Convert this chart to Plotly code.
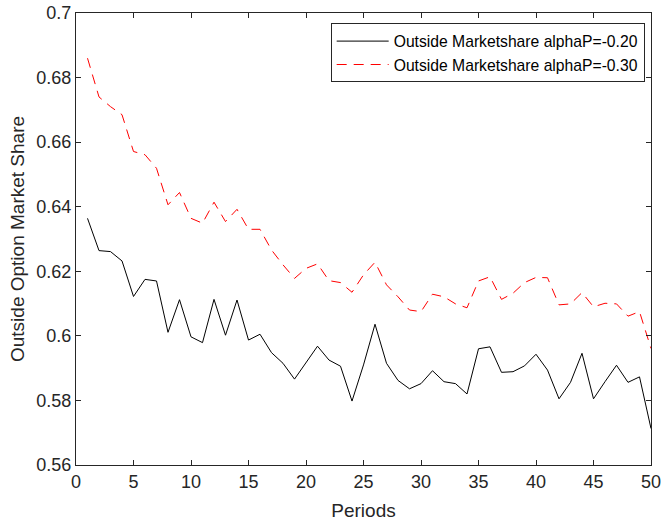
import plotly.graph_objects as go

periods = list(range(1, 51))
share_a020 = [0.6364, 0.6264, 0.6261, 0.6232, 0.6122, 0.6175, 0.6170, 0.6011, 0.6112, 0.5997,
              0.5979, 0.6113, 0.6002, 0.6111, 0.5987, 0.6005, 0.5948, 0.5915, 0.5866, 0.5917,
              0.5968, 0.5925, 0.5906, 0.5798, 0.5910, 0.6036, 0.5915, 0.5862, 0.5836, 0.5852,
              0.5892, 0.5858, 0.5852, 0.5820, 0.5960, 0.5966, 0.5887, 0.5889, 0.5907, 0.5943,
              0.5894, 0.5805, 0.5856, 0.5946, 0.5805, 0.5858, 0.5909, 0.5856, 0.5873, 0.5713]
share_a030 = [0.6860, 0.6740, 0.6710, 0.6685, 0.6571, 0.6561, 0.6519, 0.6406, 0.6444, 0.6364,
              0.6349, 0.6414, 0.6354, 0.6392, 0.6330, 0.6330, 0.6266, 0.6220, 0.6178, 0.6209,
              0.6223, 0.6171, 0.6165, 0.6135, 0.6189, 0.6228, 0.6158, 0.6121, 0.6080, 0.6075,
              0.6129, 0.6121, 0.6099, 0.6087, 0.6170, 0.6183, 0.6113, 0.6132, 0.6165, 0.6181,
              0.6180, 0.6096, 0.6099, 0.6134, 0.6090, 0.6101, 0.6099, 0.6061, 0.6075, 0.5961]
names = ["Outside Marketshare alphaP=-0.20", "Outside Marketshare alphaP=-0.30"]
x_ticks = list(range(0, 51, 5))
y_ticks = [0.56, 0.58, 0.6, 0.62, 0.64, 0.66, 0.68, 0.7]

FONT = "Liberation Sans, Arial, sans-serif"
AX = "#262626"

fig = go.Figure()
fig.add_trace(go.Scatter(x=periods, y=share_a020, mode="lines", name=names[0],
                         line=dict(color="#000000", width=1)))
fig.add_trace(go.Scatter(x=periods, y=share_a030, mode="lines", name=names[1],
                         line=dict(color="#ff0000", width=1, dash="10px,7px")))

axis_common = dict(showline=True, linecolor=AX, linewidth=1, mirror="ticks",
                   ticks="inside", ticklen=5, tickcolor=AX, tickwidth=1,
                   showgrid=False, zeroline=False, automargin=False,
                   ticklabeloverflow="allow",
                   tickfont=dict(family=FONT, size=18, color=AX))

fig.update_layout(
    width=661, height=524,
    margin=dict(l=76, r=10, t=13, b=59),
    paper_bgcolor="white", plot_bgcolor="white",
    font=dict(family=FONT, color=AX),
    xaxis=dict(range=[0, 50], tickvals=x_ticks,
               title=dict(text="Periods", font=dict(family=FONT, size=19, color=AX), standoff=13),
               **axis_common),
    yaxis=dict(range=[0.56, 0.7], tickvals=y_ticks,
               title=dict(text="Outside Option Market Share", font=dict(family=FONT, size=19, color=AX), standoff=6),
               **axis_common),
    legend=dict(x=0.989, y=0.977, xanchor="right", yanchor="top",
                bgcolor="white", bordercolor=AX, borderwidth=1,
                font=dict(family=FONT, size=15.7, color="#000000"),
                itemwidth=52, tracegroupgap=0),
    showlegend=True,
)

fig.write_html("out.html")
